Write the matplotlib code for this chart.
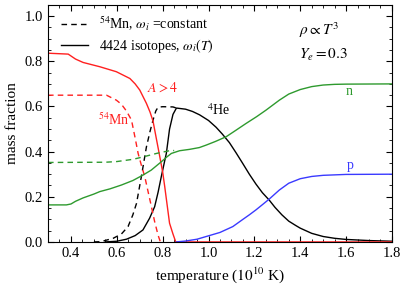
import matplotlib
matplotlib.use("Agg")
import matplotlib.pyplot as plt
from matplotlib.ticker import MultipleLocator

plt.rcParams['font.family'] = ['Liberation Serif', 'DejaVu Serif']
plt.rcParams['mathtext.fontset'] = 'stix'

# A > 4 (solid red)
T_heavy = [0.30, 0.388, 0.42, 0.453, 0.526, 0.598, 0.657, 0.68, 0.70, 0.729, 0.745, 0.758, 0.772, 0.787, 0.80, 0.809, 0.82, 0.83, 0.845, 0.857, 1.8]
X_heavy = [0.836, 0.832, 0.81, 0.795, 0.776, 0.754, 0.724, 0.70, 0.673, 0.614, 0.575, 0.535, 0.46, 0.38, 0.31, 0.245, 0.16, 0.083, 0.035, 0.0, 0.0]
# 54Mn (dashed red)
T_mn = [0.30, 0.555, 0.598, 0.62, 0.642, 0.664, 0.68, 0.693, 0.707, 0.722, 0.737, 0.751, 0.765, 0.78, 0.79]
X_mn = [0.65, 0.65, 0.628, 0.61, 0.58, 0.54, 0.46, 0.392, 0.34, 0.289, 0.22, 0.156, 0.09, 0.03, 0.0]
# 4He dashed (54Mn model)
T_he_c = [0.50, 0.53, 0.584, 0.62, 0.649, 0.67, 0.686, 0.707, 0.729, 0.745, 0.758, 0.77, 0.78, 0.80, 0.845, 0.86]
X_he_c = [0.0, 0.001, 0.016, 0.035, 0.068, 0.12, 0.171, 0.289, 0.42, 0.49, 0.54, 0.58, 0.597, 0.599, 0.598, 0.593]
# 4He solid (4424 isotopes)
T_he = [0.55, 0.60, 0.642, 0.68, 0.714, 0.743, 0.765, 0.78, 0.794, 0.809, 0.816, 0.83, 0.845, 0.86, 0.90, 0.93, 0.961, 1.00, 1.033, 1.06, 1.091, 1.12, 1.149, 1.178, 1.207, 1.235, 1.265, 1.29, 1.32, 1.35, 1.38, 1.40, 1.45, 1.50, 1.55, 1.60, 1.70, 1.80]
X_he = [0.0, 0.003, 0.012, 0.028, 0.053, 0.105, 0.156, 0.22, 0.289, 0.36, 0.392, 0.50, 0.565, 0.593, 0.588, 0.578, 0.563, 0.538, 0.508, 0.478, 0.44, 0.395, 0.348, 0.30, 0.256, 0.218, 0.185, 0.153, 0.12, 0.092, 0.073, 0.061, 0.038, 0.024, 0.016, 0.011, 0.006, 0.003]
# neutrons solid
T_n = [0.30, 0.38, 0.40, 0.42, 0.453, 0.50, 0.526, 0.57, 0.62, 0.67, 0.714, 0.75, 0.794, 0.82, 0.838, 0.874, 0.917, 0.96, 0.99, 1.03, 1.077, 1.12, 1.164, 1.21, 1.251, 1.309, 1.35, 1.40, 1.45, 1.50, 1.55, 1.60, 1.80]
X_n = [0.164, 0.164, 0.168, 0.18, 0.195, 0.212, 0.223, 0.235, 0.252, 0.272, 0.296, 0.318, 0.355, 0.378, 0.392, 0.404, 0.41, 0.418, 0.429, 0.445, 0.466, 0.495, 0.525, 0.555, 0.584, 0.628, 0.655, 0.675, 0.688, 0.695, 0.698, 0.699, 0.70]
# neutrons dashed
T_n_c = [0.30, 0.55, 0.60, 0.671, 0.72, 0.773, 0.80, 0.83, 0.85]
X_n_c = [0.352, 0.353, 0.356, 0.366, 0.378, 0.392, 0.398, 0.404, 0.405]
# protons
T_p = [0.86, 0.90, 0.95, 0.99, 1.05, 1.106, 1.15, 1.178, 1.207, 1.235, 1.265, 1.309, 1.35, 1.40, 1.45, 1.50, 1.60, 1.80]
X_p = [0.0, 0.004, 0.012, 0.024, 0.042, 0.068, 0.10, 0.12, 0.142, 0.165, 0.19, 0.23, 0.26, 0.28, 0.29, 0.295, 0.299, 0.30]

red = '#ff2020'
green = '#2e9a2e'
blue = '#3a3aff'

fig = plt.figure(figsize=(4.07, 2.88), dpi=100)
ax = fig.add_axes([0.118, 0.160, 0.845, 0.823])
lw = 1.0
dash = (0, (4, 3))
ax.plot(T_he_c, X_he_c, color='k', ls=dash, lw=lw, label=r'$^{54}$Mn, $\omega_i$ =constant')
ax.plot(T_he, X_he, color='k', lw=lw, label=r'4424 isotopes, $\omega_i(T)$')
ax.plot(T_heavy, X_heavy, color=red, lw=lw)
ax.plot(T_mn, X_mn, color=red, ls=dash, lw=lw)
ax.plot(T_n, X_n, color=green, lw=lw)
ax.plot(T_n_c, X_n_c, color=green, ls=dash, lw=lw)
ax.plot(T_p, X_p, color=blue, lw=lw)

ax.set_xlim(0.3, 1.8)
ax.set_ylim(0.0, 1.05)
ax.xaxis.set_major_locator(MultipleLocator(0.2))
ax.xaxis.set_minor_locator(MultipleLocator(0.05))
ax.yaxis.set_major_locator(MultipleLocator(0.2))
ax.yaxis.set_minor_locator(MultipleLocator(0.05))
ax.tick_params(which='both', direction='in', top=True, right=True, labelsize=10.5)
ax.tick_params(which='major', length=4)
ax.tick_params(which='minor', length=2)
ax.set_xlabel(r'temperature ($10^{10}$ K)', fontsize=11)
ax.set_ylabel('mass fraction', fontsize=11)

ax.text(0.73, 0.685, r'$A > 4$', color=red, fontsize=10, va='center')
ax.text(0.52, 0.54, r'$^{54}$Mn', color=red, fontsize=10, va='center')
ax.text(0.995, 0.585, r'$^{4}$He', color='k', fontsize=10, va='center')
ax.text(1.6, 0.665, 'n', color=green, fontsize=10, va='center')
ax.text(1.605, 0.34, 'p', color=blue, fontsize=10, va='center')
ax.text(1.395, 0.94, r'$\rho \propto T^3$', fontsize=11, va='center')
ax.text(1.395, 0.83, r'$Y_e = 0.3$', fontsize=11, va='center')

ax.legend(loc='upper left', frameon=False, fontsize=10, handlelength=2.0,
          labelspacing=0.3, bbox_to_anchor=(0.0, 1.01), borderaxespad=0.5)

fig.savefig('out.png', dpi=100)
